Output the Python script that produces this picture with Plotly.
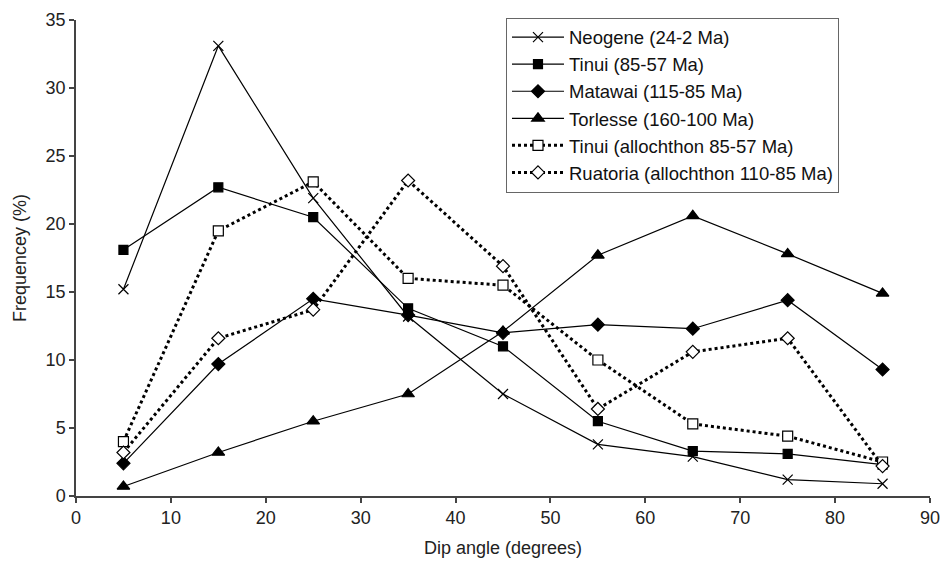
import plotly.graph_objects as go

dip = [5, 15, 25, 35, 45, 55, 65, 75, 85]
neogene = [15.2, 33.1, 21.9, 13.2, 7.5, 3.8, 2.9, 1.2, 0.9]
tinui = [18.1, 22.7, 20.5, 13.8, 11.0, 5.5, 3.3, 3.1, 2.3]
matawai = [2.4, 9.7, 14.5, 13.3, 12.0, 12.6, 12.3, 14.4, 9.3]
torlesse = [0.7, 3.2, 5.5, 7.5, 12.1, 17.7, 20.6, 17.8, 14.9]
tinui_allo = [4.0, 19.5, 23.1, 16.0, 15.5, 10.0, 5.3, 4.4, 2.5]
ruatoria = [3.2, 11.6, 13.7, 23.2, 16.9, 6.4, 10.6, 11.6, 2.2]

names = ["Neogene (24-2 Ma)", "Tinui (85-57 Ma)", "Matawai (115-85 Ma)",
         "Torlesse (160-100 Ma)", "Tinui (allochthon 85-57 Ma)",
         "Ruatoria (allochthon 110-85 Ma)"]

FONT = "Liberation Sans, Arial, sans-serif"
fig = go.Figure()

styles = [
    (neogene, "x-thin", 10, "solid", 1.2, "black"),
    (tinui, "square", 9, "solid", 1.2, "black"),
    (matawai, "diamond", 10, "solid", 1.2, "black"),
    (torlesse, "triangle-up", 11, "solid", 1.2, "black"),
    (tinui_allo, "square", 10, "3px,3px", 3, "white"),
    (ruatoria, "diamond", 10, "3px,3px", 3, "white"),
]

for (vals, sym, size, dash, lw, fill), nm in zip(styles, names):
    fig.add_trace(go.Scatter(
        x=dip, y=vals, name=nm, mode="lines+markers",
        line=dict(color="black", width=lw, dash=dash),
        marker=dict(symbol=sym, size=size, color=fill,
                    line=dict(color="black", width=1.2)),
    ))

fig.update_layout(
    width=941, height=567,
    margin=dict(l=76, r=11, t=20, b=71),
    paper_bgcolor="white", plot_bgcolor="white",
    font=dict(family=FONT, size=18, color="#222"),
    showlegend=True,
    legend=dict(x=0.5035, y=1.005, xanchor="left", yanchor="top",
                bordercolor="#666", borderwidth=1, bgcolor="white",
                font=dict(size=18.5, family=FONT, color="#111"),
                tracegroupgap=0, itemwidth=52),
    xaxis=dict(range=[0, 90], tickvals=list(range(0, 91, 10)),
               automargin=False,
               showgrid=False, zeroline=False, showline=True,
               linecolor="#444", linewidth=1.5, ticks="outside",
               ticklen=5, tickcolor="#444", tickwidth=1.5,
               title=dict(text="Dip angle (degrees)", standoff=14,
                          font=dict(size=18)),
               tickfont=dict(size=18)),
    yaxis=dict(range=[0, 35], tickvals=list(range(0, 36, 5)),
               automargin=False,
               showgrid=False, zeroline=False, showline=True,
               linecolor="#444", linewidth=1.5, ticks="outside",
               ticklen=5, tickcolor="#444", tickwidth=1.5,
               title=dict(text="Frequencey (%)", standoff=14,
                          font=dict(size=18)),
               tickfont=dict(size=18)),
)

fig.write_html("out.html")
